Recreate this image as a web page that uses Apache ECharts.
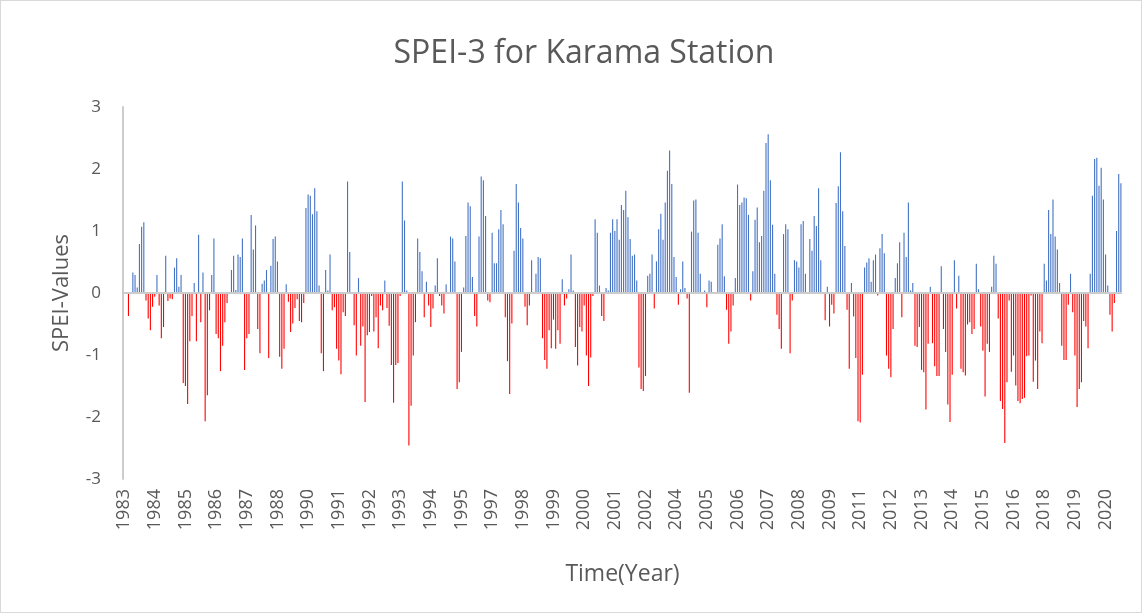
<!DOCTYPE html>
<html>
<head>
<meta charset="utf-8">
<script src="https://cdn.jsdelivr.net/npm/echarts@6/dist/echarts.min.js"></script>
<style>
html,body{margin:0;padding:0;background:#fff;}
#frame{position:absolute;left:0;top:0;width:1140px;height:611px;border:1px solid #d9d9d9;}
#chart{position:absolute;left:0;top:0;width:1146px;height:615px;}
</style>
</head>
<body>
<div id="frame"></div>
<div id="chart"></div>
<script>
// Monthly SPEI-3 values (Jan 1983 - Dec 2020)
const firstYear = 1983;
const lastYear = 2020;
const spei1983_1989 = [
  null, null, -0.37, 0, 0.33, 0.29, 0.09, 0.79, 1.07, 1.14, -0.12, -0.41,
  -0.6, -0.22, -0.06, 0.29, -0.2, -0.73, -0.55, 0.6, -0.13, -0.09, -0.1, 0.41,
  0.56, 0.1, 0.29, -1.45, -1.5, -1.79, -0.78, -0.37, 0.16, -0.78, 0.94, -0.47,
  0.33, -2.07, -1.65, -0.28, 0.29, 0.88, -0.66, -0.73, -1.26, -0.85, -0.47, -0.16,
  0, 0.37, 0.6, 0.05, 0.62, 0.58, 0.88, -1.24, -0.73, -0.66, 1.26, 0.7,
  1.09, -0.58, -0.97, 0.15, 0.2, 0.37, -1.05, 0.44, 0.87, 0.91, 0.51, -1.03,
  -1.22, -0.9, 0.14, -0.14, -0.63, -0.49, -0.24, -0.1, -0.45, -0.47, -0.16, 1.37
];
const spei1990_1999 = [
  1.59, 1.57, 1.27, 1.69, 1.32, 0.12, -0.97, -1.26, 0.37, 0.04, 0.62, -0.28,
  -0.23, -0.9, -1.09, -1.31, -0.31, -0.37, 1.8, 0.66, 0, -0.52, -1.01, 0.24,
  -0.85, -0.54, -1.76, -0.68, -0.63, -0.05, -0.62, -0.39, -0.89, -0.2, -0.28, 0.2,
  -0.24, -0.53, -1.16, -1.77, -1.16, -1.13, -0.05, 1.8, 1.17, 0.04, -2.46, -1.82,
  -1.01, -0.47, 0.88, 0.66, 0.35, -0.39, 0.18, -0.2, -0.55, -0.25, 0.12, 0.56,
  -0.05, -0.2, -0.33, 0.14, 0, 0.91, 0.88, 0.51, -1.55, -1.44, -0.95, 0.09,
  0.92, 1.46, 1.4, 0.26, -0.37, -0.54, 0.91, 1.88, 1.82, 1.24, -0.12, -0.15,
  0.97, 0.48, 0.48, 1.03, 1.34, 1.11, -0.39, -1.1, -1.63, -0.49, 0.68, 1.76,
  1.46, 1.05, 0.88, -0.22, -0.52, -0.2, 0.53, 0, 0.31, 0.58, 0.56, -0.73,
  -1.08, -1.22, -0.6, -0.89, -0.43, -0.9, -0.6, -0.82, 0.22, -0.2, -0.09, 0.06
];
const spei2000_2009 = [
  0.62, 0.04, -0.87, -1.17, -0.55, -0.62, -0.2, -1.01, -1.5, -1.04, -0.05, 1.19,
  0.97, 0.12, -0.37, -0.45, 0.08, 0.04, 0.97, 1.19, 1.0, 1.19, 0.86, 1.42,
  1.34, 1.65, 1.22, 0.87, 0.6, 0.62, 0.2, -1.2, -1.55, -1.58, -1.34, 0.28,
  0.31, 0.62, -0.25, 0.51, 1.03, 1.28, 0.86, 1.46, 1.97, 2.3, 1.76, 0.58,
  0.26, -0.19, 0.06, 0.51, 0.08, -0.09, -1.61, 0.99, 1.49, 1.51, 0.97, 0.31,
  0, 0.04, -0.23, 0.2, 0.18, 0, 0, 0.78, 0.88, 1.11, 0.27, -0.27,
  -0.82, -0.62, -0.2, 0.24, 1.75, 1.42, 1.46, 1.54, 1.53, 1.26, -0.12, 0.35,
  1.18, 1.38, 0.82, 0.92, 1.65, 2.42, 2.56, 1.82, 1.1, 0.31, -0.35, -0.58,
  -0.9, 0.95, 1.11, 1.03, -0.97, -0.12, 0.53, 0.51, 0.41, 1.11, 1.16, 0.31,
  0, 0.87, 0.68, 1.24, 1.08, 1.69, 0.53, 0, -0.44, 0.1, -0.54, -0.19
];
const spei2010_2020 = [
  -0.33, 1.45, 1.72, 2.27, 1.32, 0.76, -0.27, -1.22, 0.16, -0.38, -1.05, -2.07,
  -2.09, -1.32, 0.41, 0.49, 0.56, 0.18, 0.53, 0.62, -0.04, 0.72, 0.95, 0.64,
  -1.01, -1.22, -1.36, -0.58, 0.24, 0.48, 0.82, -0.39, 0.97, 0.58, 1.46, 0.04,
  0.16, -0.85, -0.87, -0.55, -1.24, -1.28, -1.88, -0.82, 0.1, -0.81, -1.18, -1.34,
  -1.34, 0.43, -0.58, -0.95, -1.8, -2.08, -1.32, 0.53, -0.25, 0.28, -1.22, -1.28,
  -1.33, -0.51, -0.47, -0.66, -0.58, 0.47, 0.06, -0.54, -0.93, -1.67, -0.82, -0.95,
  0.1, 0.6, 0.47, -0.41, -1.74, -1.87, -2.42, -1.44, -0.12, -1.27, -1.01, -1.49,
  -1.74, -1.78, -1.71, -1.69, -1.02, -1.01, -0.04, -1.43, -1.09, -1.55, -0.62, -0.81,
  0.47, 0.2, 1.34, 0.95, 1.51, 0.91, 0.7, 0.16, -0.85, -1.08, -1.08, -0.19,
  0.31, -0.31, -1.01, -1.84, -1.55, -1.44, -0.45, -0.54, -0.89, 0.31, 1.57, 2.16,
  2.18, 1.73, 2.02, 1.51, 0.62, 0.12, -0.35, -0.62, -0.16, 1.0, 1.92, 1.77
];
const yTicks = [-3, -2, -1, 0, 1, 2, 3];

const values = [].concat(spei1983_1989, spei1990_1999, spei2000_2009, spei2010_2020);
const categories = [];
for (let y = firstYear; y <= lastYear; y++) {
  for (let m = 0; m < 12; m++) categories.push(String(y));
}

const textColor = '#595959';
const font = 'Open Sans';
const chart = echarts.init(document.getElementById('chart'), null, {renderer: 'canvas'});
chart.setOption({
  animation: false,
  backgroundColor: 'transparent',
  title: {
    text: 'SPEI-3 for Karama Station',
    left: 579, top: 33, textAlign: 'center',
    textStyle: {fontFamily: font, fontSize: 32, fontWeight: 'normal', color: textColor}
  },
  grid: {left: 123, right: 24, top: 107, bottom: 136, containLabel: false},
  xAxis: {
    type: 'category',
    data: categories,
    boundaryGap: true,
    name: 'Time(Year)',
    nameLocation: 'middle',
    nameGap: 84,
    nameTextStyle: {fontFamily: font, fontSize: 23, color: textColor},
    axisLine: {show: false, onZero: false},
    axisTick: {show: false},
    axisLabel: {
      interval: 13, rotate: 90, margin: 10,
      fontFamily: font, fontSize: 18, color: textColor
    },
    splitLine: {show: false}
  },
  yAxis: {
    type: 'value',
    min: yTicks[0], max: yTicks[yTicks.length - 1], interval: 1,
    name: 'SPEI-Values',
    nameLocation: 'middle',
    nameRotate: 90,
    nameGap: 50,
    nameTextStyle: {fontFamily: font, fontSize: 22, color: textColor},
    axisLine: {show: true, lineStyle: {color: '#CCCCCC', width: 2}},
    axisTick: {show: false},
    axisLabel: {margin: 22, fontFamily: font, fontSize: 17, color: textColor},
    splitLine: {show: false}
  },
  series: [{
    type: 'bar',
    data: values,
    barWidth: '50%',
    itemStyle: {
      color: function (p) { return (p.value >= 0) ? '#4472C4' : '#FF0000'; }
    },
    markLine: {
      silent: true,
      symbol: 'none',
      label: {show: false},
      lineStyle: {color: '#CCCCCC', width: 2, type: 'solid'},
      data: [{yAxis: 0}]
    }
  }]
});
</script>
</body>
</html>
